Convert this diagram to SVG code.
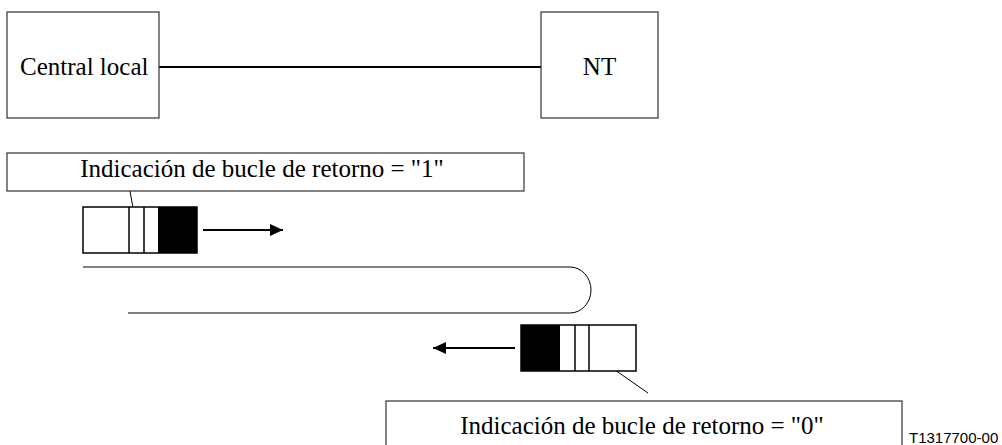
<svg xmlns="http://www.w3.org/2000/svg" width="1002" height="445" viewBox="0 0 1002 445">
<defs>
<marker id="ah" markerWidth="14" markerHeight="12" refX="13" refY="6" orient="auto" markerUnits="userSpaceOnUse">
<path d="M0,0 L13,6 L0,12 Z" fill="#000"/>
</marker>
<style>
.box{fill:#fff;stroke:#333;stroke-width:1.2}
.t{font-family:'Liberation Serif','Times New Roman',serif;font-size:25px;fill:#000}
.ln{stroke:#000;stroke-width:2;fill:none}
.thin{stroke:#000;stroke-width:1;fill:none}
.blk{fill:#fff;stroke:#000;stroke-width:1.5}
</style>
</defs>
<g id="connectors">
<line class="ln" x1="159" y1="67" x2="541" y2="67"/>
<line class="ln" x1="203" y1="230" x2="283" y2="230" marker-end="url(#ah)"/>
<line class="ln" x1="515" y1="348" x2="433" y2="348" marker-end="url(#ah)"/>
<path class="thin" stroke-width="1.5" d="M83,267 L570,267 A21,23 0 0 1 570,313 L128,313"/>
<line class="thin" x1="128" y1="180" x2="137" y2="230"/>
<line class="thin" x1="582" y1="347" x2="648" y2="393"/>
</g>
<g id="central-local">
<rect class="box" x="7" y="12" width="152" height="106"/>
<text class="t" font-family="Liberation Serif, serif" x="20" y="75">Central local</text>
</g>
<g id="nt">
<rect class="box" x="541" y="12" width="117" height="106"/>
<text class="t" font-family="Liberation Serif, serif" x="599.5" y="75" text-anchor="middle">NT</text>
</g>
<g id="label-1">
<rect class="box" x="7" y="153" width="517" height="38"/>
<text class="t" font-family="Liberation Serif, serif" x="262" y="177" text-anchor="middle">Indicación de bucle de retorno = "1"</text>
</g>
<g id="frame-1">
<rect class="blk" x="83" y="207" width="114" height="46"/>
<line class="blk" x1="129" y1="207" x2="129" y2="253"/>
<line class="blk" x1="144" y1="207" x2="144" y2="253"/>
<rect x="158" y="207" width="39" height="46" fill="#000"/>
</g>
<g id="frame-0">
<rect class="blk" x="521" y="325" width="115" height="46"/>
<rect x="521" y="325" width="39" height="46" fill="#000"/>
<line class="blk" x1="575" y1="325" x2="575" y2="371"/>
<line class="blk" x1="589" y1="325" x2="589" y2="371"/>
</g>
<g id="label-0">
<rect class="box" x="386" y="401" width="516" height="50"/>
<text class="t" font-family="Liberation Serif, serif" x="642" y="434" text-anchor="middle">Indicación de bucle de retorno = "0"</text>
</g>
<text x="909" y="443" font-family="Liberation Sans, Arial, sans-serif" font-size="15" fill="#000">T1317700-00</text>
</svg>
